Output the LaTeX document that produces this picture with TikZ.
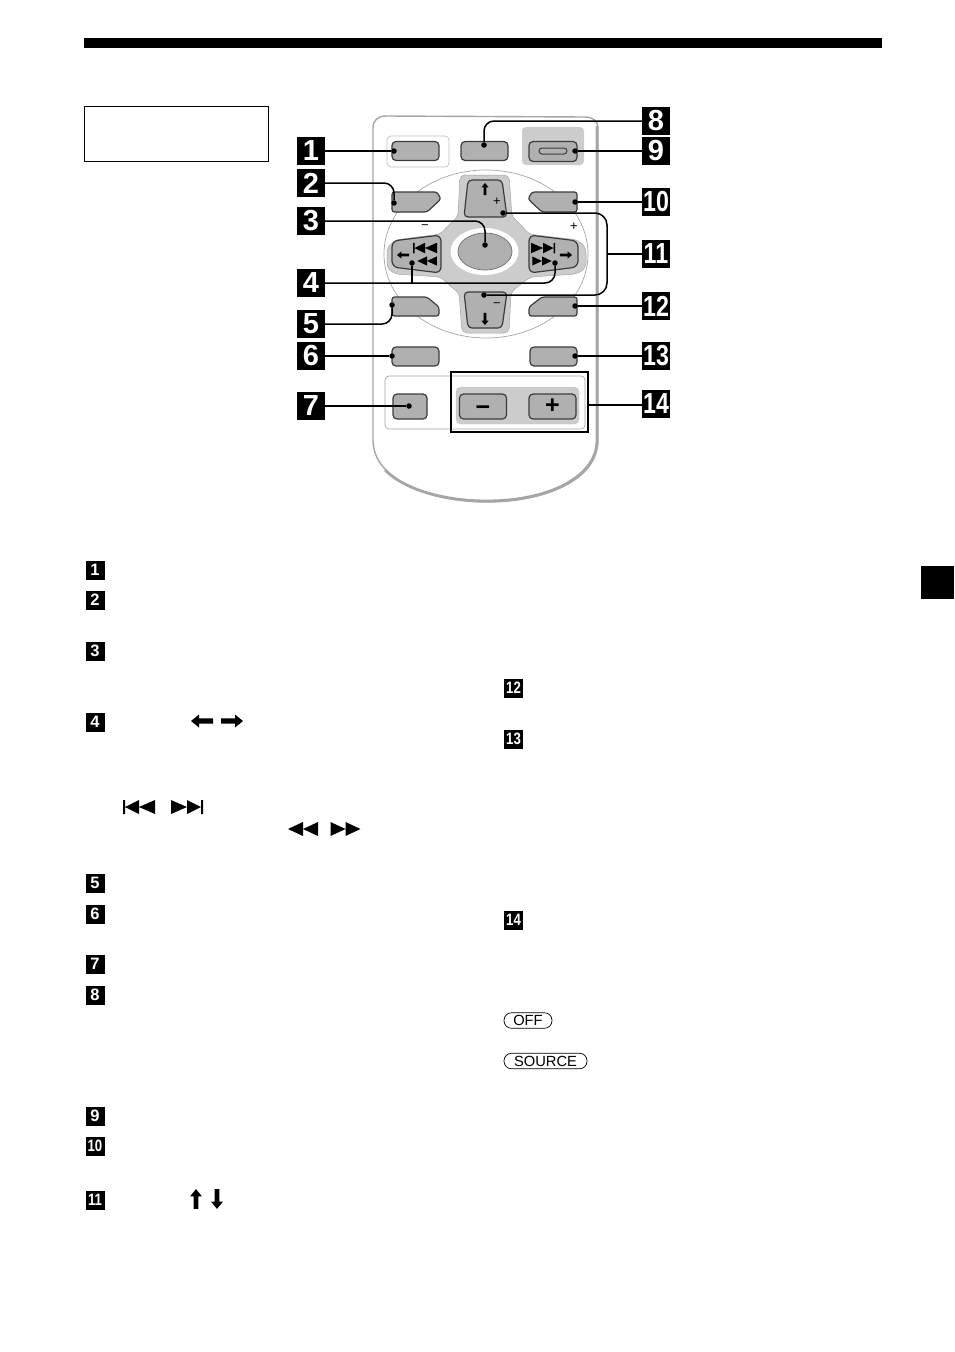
\documentclass[tikz,border=0pt]{standalone}
\usepackage{fontspec}
\setmainfont{Liberation Sans}
\usetikzlibrary{positioning}
\usetikzlibrary{calc}

\definecolor{btngray}{HTML}{B0B0B0}
\definecolor{btnline}{HTML}{3C3C3C}
\definecolor{padgray}{HTML}{CCCCCC}
\definecolor{edgegray}{HTML}{A6A6A6}

\newcommand{\numtxt}[1]{\ifnum#1>9 \scalebox{.8}[1]{#1}\else #1\fi}

\tikzset{
    bignum/.style={fill=black, text=white, minimum size=28pt, inner sep=0pt, font=\fontsize{29}{29}\selectfont\bfseries},
    smallnum/.style={fill=black, text=white, minimum size=19pt, inner sep=0pt, font=\fontsize{16.5}{16.5}\selectfont\bfseries},
    btn/.style={draw=btnline, fill=btngray, line width=1.2pt, rounded corners=4pt},
    btnbox/.style={btn, minimum width=47pt, minimum height=19pt, inner sep=0pt},
    wiredot/.style={circle, fill=black, minimum size=5.5pt, inner sep=0pt},
    wire/.style={line width=1.5pt, rounded corners=10pt},
    pillbox/.style={draw, rounded corners=7.5pt, line width=.7pt, minimum height=15.5pt, inner sep=2pt, font=\fontsize{14.7}{14.7}\selectfont},
    tinysign/.style={inner sep=0pt, font=\fontsize{13}{13}\selectfont},
    volsign/.style={inner sep=0pt, font=\fontsize{25}{25}\selectfont\bfseries},
    pics/blockarrow/.style={code={\fill (-11,0) -- (-3,-6.5) -- (-3,-2.6) -- (11,-2.6) -- (11,2.6) -- (-3,2.6) -- (-3,6.5) -- cycle;}},
    pics/dbltri/.style={code={\fill (-15,0) -- (0,-7) -- (0,7) -- cycle (0,0) -- (15,-7) -- (15,7) -- cycle;}},
    pics/trackbar/.style={code={\fill (-16,-7) rectangle (-14,7) (-14,0) -- (0,-7) -- (0,7) -- cycle (0,0) -- (16,-7) -- (16,7) -- cycle;}}
}

\begin{document}
\begin{tikzpicture}[x=1pt, y=-1pt]
    \useasboundingbox (0,0) rectangle (954,1352);

    % page furniture
    \fill (84,38) rectangle (882,48);
    \fill (921,566) rectangle (954,599);
    \draw[line width=.7pt] (84.5,106.5) rectangle (268.5,161.5);

    % body of the remote
    \draw[edgegray, fill=white, line width=1.4pt] (373,128) .. controls (373,120) and (378,116) .. (386,116)
        -- (585,117) .. controls (593,117) and (598,121) .. (598,128) -- (598,440)
        .. controls (598,480) and (545,502) .. (487,502) .. controls (430,502) and (373,480) .. (373,440) -- cycle;
    \draw[edgegray, line width=2.8pt] (597,126) -- (597,440) .. controls (597,479) and (545,501) .. (487,501) .. controls (445,501) and (405,490) .. (385,470);

    % top row
    \draw[edgegray!70, fill=white, line width=.7pt, rounded corners=4pt] (387,136) rectangle (449,167);
    \fill[padgray, rounded corners=4pt] (522,127) rectangle (584,165);
    \node[btnbox] (b1) at (415.5,151) {};
    \node[btnbox] (b8) at (484.5,151) {};
    \node[btnbox, minimum width=48pt, minimum height=20pt] (b9) at (553,151.5) {};
    \node[draw=btnline, fill=btngray, line width=1pt, rounded corners=3pt, minimum width=28pt, minimum height=6pt, inner sep=0pt] (pill9) at (553,151) {};

    % cursor pad
    \draw[edgegray, line width=.7pt] (486,254) ellipse (102pt and 84pt);
    \fill[padgray, draw=edgegray, line width=.5pt, rounded corners=5pt] (460,175) -- (509,175) -- (512,217)
        .. controls (518,222) and (524,228) .. (528,234) -- (578,240) -- (586,248) -- (586,268) -- (577,274) -- (530,277)
        .. controls (524,282) and (516,288) .. (511,292) -- (509,333) -- (462,333) -- (459,292)
        .. controls (452,288) and (446,282) .. (441,277) -- (395,274) -- (387,268) -- (387,248) -- (395,240) -- (441,234)
        .. controls (446,228) and (452,222) .. (458,217) -- cycle;
    \draw[btn] (468,180) -- (502,180) -- (507,217) -- (464,217) -- cycle;
    \draw[btn] (464,292) -- (507,292) -- (502,328) -- (468,328) -- cycle;
    \draw[btn, rounded corners=6pt] (392,241) -- (441,235) -- (441,273) -- (392,267) -- cycle;
    \draw[btn, rounded corners=6pt] (578,241) -- (529,235) -- (529,273) -- (578,267) -- cycle;
    \fill[white] (484.5,251.5) ellipse (34pt and 23.5pt);
    \draw[btnline!70, fill=btngray, line width=.8pt] (485,251.5) ellipse (27pt and 18.5pt);

    % angled buttons
    \draw[btn, rounded corners=2.5pt] (392,192) -- (437,192) -- (441,199) -- (427,212) -- (392,212) -- cycle;
    \draw[btn, rounded corners=2.5pt] (577,192) -- (532,192) -- (528,199) -- (542,212) -- (577,212) -- cycle;
    \draw[btn, rounded corners=2.5pt] (392,297) -- (427,297) -- (439,307) -- (439,316) -- (392,316) -- cycle;
    \draw[btn, rounded corners=2.5pt] (577,297) -- (542,297) -- (529,307) -- (529,316) -- (577,316) -- cycle;
    \node[btnbox] (b6) at (415.5,356.5) {};
    \node[btnbox] (b13) at (553.5,356.5) {};

    % lower panel
    \draw[edgegray, line width=.7pt, rounded corners=4pt] (385,376) rectangle (585,429);
    \fill[padgray, draw=edgegray!70, rounded corners=5pt] (456,387) rectangle (579,424);
    \node[btnbox, minimum width=34pt, minimum height=25pt] (b7) at (410,406.5) {};
    \node[btnbox, minimum height=25pt] (bminus) at (483,406.5) {};
    \node[btnbox, minimum height=25pt] (bplus) at (552.5,406.5) {};
    \node[volsign] (signminus) at (483,411) {−};
    \node[volsign] (signplus) at (552.5,406.5) {+};
    \draw[line width=2pt] (451,372) rectangle (588,432);
    \coordinate (box14) at (588,405);

    % glyphs on the buttons
    \pic[scale=.55] at (403,255) {blockarrow};
    \pic[scale=.55, rotate=180] at (566,255) {blockarrow};
    \pic[scale=.55, rotate=-90] at (485,189) {blockarrow};
    \pic[scale=.55, rotate=90] at (485,319) {blockarrow};
    \pic[scale=.75] at (425,248) {trackbar};
    \pic[scale=.75, rotate=180] at (543,248) {trackbar};
    \pic[scale=.65] at (427,261) {dbltri};
    \pic[scale=.65, rotate=180] at (542,261) {dbltri};
    \node[tinysign] (plusup) at (497,202) {+};
    \node[tinysign] (minusdn) at (497,305) {−};
    \node[tinysign] (minusl) at (425,227) {−};
    \node[tinysign] (plusr) at (574,227) {+};

    % big labels round the remote
    \foreach \n/\x/\y in {1/311/151, 2/311/183, 3/311/221, 4/311/283, 5/311/324, 6/311/356, 7/311/406,
                          8/656/121, 9/656/151, 10/656/202, 11/656/254, 12/656/306, 13/656/356, 14/656/404}
        \node[bignum] (L\n) at (\x,\y) {\numtxt{\n}};

    \foreach \n/\x/\y in {1/394/151, 2/394/203, 3/485/245, 4a/412/263, 4b/555/263, 5/392/305, 6/392/356, 7/409/406,
                          8/484/145, 9/575/151, 10/575/202, 11a/503/213, 11b/484/295, 12/575/306, 13/575/356}
        \node[wiredot] (d\n) at (\x,\y) {};

    \draw[wire] (L1.east) -- (d1);
    \draw[wire] (L2.east) -| (d2);
    \draw[wire] (L3.east) -| (d3);
    \draw[wire] (L4.east) -| (d4b);
    \draw[wire] (d4a|-L4.east) -- (d4a);
    \draw[wire] (L5.east) -| (d5);
    \draw[wire] (L6.east) -- (d6);
    \draw[wire] (L7.east) -- (d7);
    \draw[wire] (L8.west) -| (d8);
    \draw[wire] (L9.west) -- (d9);
    \draw[wire] (L10.west) -- (d10);
    \coordinate (j11) at (607,254);
    \draw[wire, rounded corners=12pt] (d11a) -| (j11) |- (d11b);
    \draw[wire] (L11.west) -- (j11);
    \draw[wire] (L12.west) -- (d12);
    \draw[wire] (L13.west) -- (d13);
    \draw[wire] (L14.west |- box14) -- (box14);

    % key list
    \foreach \n/\x/\y in {1/95/570, 2/95/600, 3/95/651, 4/95/722, 5/95/883, 6/95/914, 7/95/964, 8/95/995,
                          9/95/1116, 10/95/1146, 11/95/1200, 12/513.5/688, 13/513.5/739, 14/513.5/920}
        \node[smallnum] (s\n) at (\x,\y) {\numtxt{\n}};

    \pic at (202,721) {blockarrow};
    \pic[rotate=180] at (232,721) {blockarrow};
    \pic at (139,807) {trackbar};
    \pic[rotate=180] at (187,807) {trackbar};
    \pic at (303,829) {dbltri};
    \pic[rotate=180] at (345.5,829) {dbltri};
    \pic[scale=.9, rotate=-90] at (196,1199) {blockarrow};
    \pic[scale=.9, rotate=90] at (217,1199) {blockarrow};

    \node[pillbox, minimum width=48pt] (off) at (528,1020.5) {OFF};
    \node[pillbox, minimum width=83pt] (source) at (545.5,1061) {SOURCE};
\end{tikzpicture}
\end{document}
